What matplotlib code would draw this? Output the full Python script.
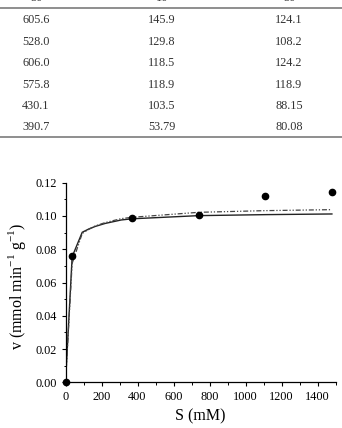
import matplotlib
matplotlib.use("Agg")
import matplotlib.pyplot as plt
from matplotlib.lines import Line2D
from matplotlib.ticker import MultipleLocator

plt.rcParams['font.family'] = ['Liberation Serif', 'DejaVu Serif']
plt.rcParams['mathtext.fontset'] = 'custom'
plt.rcParams['mathtext.rm'] = 'Liberation Serif'

# table fragment above the chart (header row is cut off at the top)
header = ["50", "10", "50"]
col1 = ["605.6", "528.0", "606.0", "575.8", "430.1", "390.7"]
col2 = ["145.9", "129.8", "118.5", "118.9", "103.5", "53.79"]
col3 = ["124.1", "108.2", "124.2", "118.9", "88.15", "80.08"]

# measured points
s_obs = [0, 37, 370, 740, 1110, 1480]
v_obs = [0.0, 0.0758, 0.0987, 0.1005, 0.1123, 0.1143]

# fitted curves
s_fit = [0, 37, 93, 130, 165, 220, 310, 370, 740, 1110, 1480]
v_solid = [0.0, 0.0755, 0.0902, 0.0922, 0.0937, 0.0955, 0.0976, 0.0983, 0.1002, 0.1008, 0.1012]
v_dash = [0.0, 0.0715, 0.0895, 0.0920, 0.0940, 0.0960, 0.0984, 0.0992, 0.1022, 0.1032, 0.1038]

W, H = 342, 428
fig = plt.figure(figsize=(W / 100, H / 100), dpi=100)

# table
col_x = [36, 162, 289]
row_y = [20, 42, 63, 85, 106, 127]
for x, h in zip(col_x, header):
    fig.text(x / W, 1 - (-2) / H, h, ha='center', va='center', fontsize=8.8, color='#333333')
for cols, x in zip([col1, col2, col3], col_x):
    for y, t in zip(row_y, cols):
        fig.text(x / W, 1 - y / H, t, ha='center', va='center', fontsize=8.8, color='#333333')
for y in [8, 137]:
    fig.add_artist(Line2D([0, 1], [1 - y / H, 1 - y / H], color='#707070', lw=1.1))

# chart
ax = fig.add_axes([65.5 / W, 1 - 382.3 / H, 270 / W, 199.6 / H])
ax.plot(s_fit, v_solid, color='#222222', lw=1.0)
ax.plot(s_fit, v_dash, color='#444444', lw=0.9, dashes=(4, 1.5, 1, 1.5, 1, 1.5))
ax.plot(s_obs, v_obs, 'o', color='black', ms=4.5, clip_on=False, zorder=5)

ax.set_xlim(0, 1500)
ax.set_ylim(0, 0.12)
ax.xaxis.set_major_locator(MultipleLocator(200))
ax.xaxis.set_minor_locator(MultipleLocator(100))
ax.yaxis.set_major_locator(MultipleLocator(0.02))
ax.yaxis.set_minor_locator(MultipleLocator(0.01))
ax.yaxis.set_major_formatter(plt.FormatStrFormatter('%.2f'))
ax.spines['top'].set_visible(False)
ax.spines['right'].set_visible(False)
for sp in ['left', 'bottom']:
    ax.spines[sp].set_linewidth(0.9)
ax.tick_params(which='major', direction='out', length=3, width=0.8, labelsize=8.8, pad=3)
ax.tick_params(which='minor', direction='out', length=1.8, width=0.7)

ax.set_xlabel('S (mM)', fontsize=11.5, labelpad=4)
ax.set_ylabel(r'v (mmol min$^{-1}$ g$^{-1}$)', fontsize=11.5)
ax.yaxis.set_label_coords(-0.14, 0.48)

fig.savefig('out.png', dpi=100)
